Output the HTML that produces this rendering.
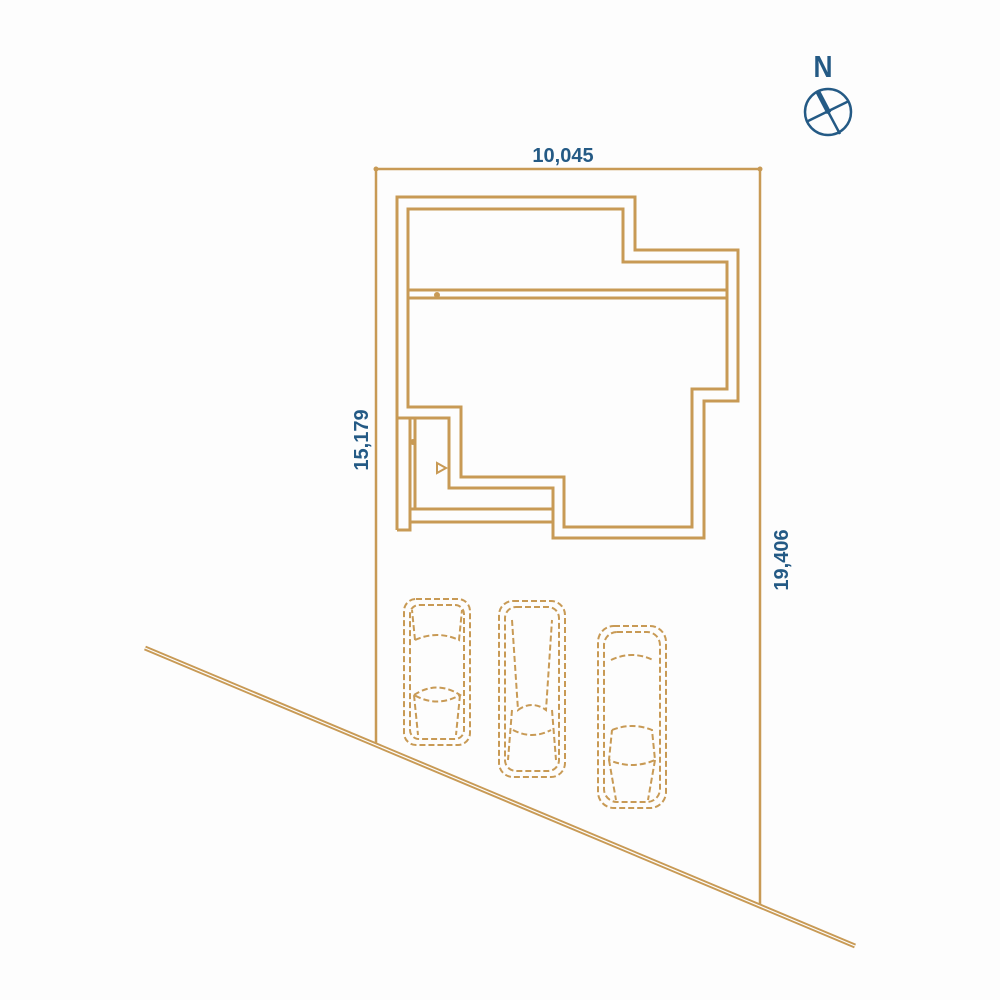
<!DOCTYPE html>
<html><head><style>body{margin:0;background:#fff}</style></head><body>
<svg width="1000" height="1000" viewBox="0 0 1000 1000" xmlns="http://www.w3.org/2000/svg">
<rect width="1000" height="1000" fill="#fdfdfd"/>
<g fill="none" stroke="#c89a55" stroke-width="3">
<path d="M376,747 V169 H760 V908" stroke-width="2.5"/>
<path d="M145,648 L855,946" stroke-width="5"/>
<path d="M145,648 L855,946" stroke="#fdfdfd" stroke-width="1.2"/>
<path d="M397,530 V197 H635 V250 H738 V401 H704 V538 H553 V488 H449 V418 H398"/>
<path d="M408,407 V209 H623 V262 H727 V389 H692 V527 H564 V477 H461 V407 Z"/>
<path d="M408,290 H727 M408,298 H727"/>
<path d="M397,530 H410 V418 M410,509 H553 M410,522 H553 M415,418 V509"/>
<path d="M437,463 L446,468 L437,473 Z" stroke-width="2"/>
</g>
<circle cx="437" cy="295" r="3" fill="#c89a55"/>
<circle cx="413" cy="442" r="3" fill="#c89a55"/>
<circle cx="376" cy="169" r="2.5" fill="#c89a55"/><circle cx="760" cy="169" r="2.5" fill="#c89a55"/>
<g fill="none" stroke="#c89a55" stroke-width="2" stroke-dasharray="6,3">
<rect x="404" y="599" width="66" height="146" rx="12"/>
<rect x="410" y="605" width="54" height="134" rx="9"/>
<path d="M415,640 Q437,630 459,640 L462,610 M415,640 L412,610 M414,695 Q437,680 460,695 Q437,708 414,695 M414,695 L418,735 M460,695 L456,735"/>
<rect x="499" y="601" width="66" height="176" rx="14"/>
<rect x="505" y="607" width="54" height="164" rx="11"/>
<path d="M512,620 L518,710 Q532,700 546,710 L552,620 M513,730 Q532,740 551,730 M512,710 L508,760 M552,710 L556,760"/>
<rect x="598" y="626" width="68" height="182" rx="16"/>
<rect x="604" y="632" width="56" height="170" rx="13"/>
<path d="M611,660 Q632,650 653,660 M612,730 Q632,722 652,730 L655,760 Q632,770 609,760 L612,730 M609,760 L616,800 M655,760 L648,800"/>
</g>
<g font-family="Liberation Sans, sans-serif" font-weight="bold" fill="#245a85">
<text x="563" y="162" font-size="20" text-anchor="middle">10,045</text>
<text transform="translate(368,440) rotate(-90)" font-size="20" text-anchor="middle">15,179</text>
<text transform="translate(788,560) rotate(-90)" font-size="20" text-anchor="middle">19,406</text>
<text transform="translate(823,77) scale(0.85,1)" font-size="31" text-anchor="middle">N</text>
</g>
<g stroke="#245a85" stroke-width="2.5" fill="none">
<circle cx="828" cy="112" r="23"/>
<path d="M817,91 L840,134 M806,122 L849,101"/>
<path d="M818,92 L829,113" stroke-width="5"/>
</g>
</svg>
</body></html>
